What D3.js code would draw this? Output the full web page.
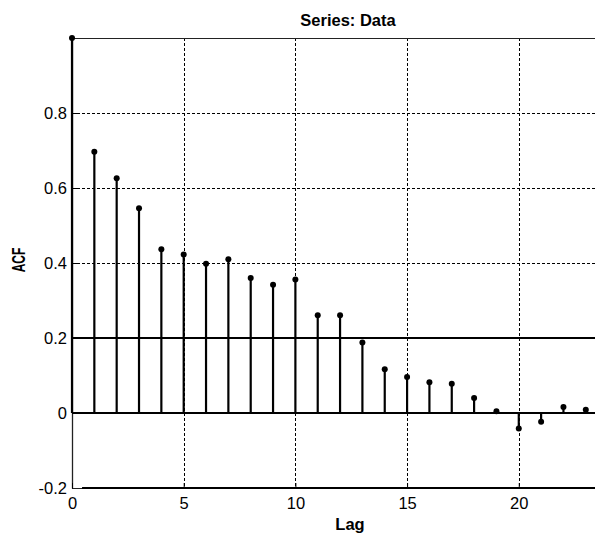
<!DOCTYPE html>
<html>
<head>
<meta charset="utf-8">
<script src="https://cdn.jsdelivr.net/npm/d3@7"></script>
<style>
    body { margin: 0; background: #fff; }
    text { font-family: "Liberation Sans", Arial, sans-serif; fill: #000; }
</style>
</head>
<body>
<script>
//pseudo-global variables
var lags = [0, 1, 2, 3, 4, 5, 6, 7, 8, 9, 10, 11, 12, 13, 14, 15, 16, 17, 18, 19, 20, 21, 22, 23];
var acfValues = [1.0, 0.697, 0.626, 0.546, 0.437, 0.423, 0.398, 0.41, 0.36, 0.342, 0.356, 0.261,
    0.261, 0.188, 0.117, 0.096, 0.082, 0.078, 0.04, 0.005, -0.041, -0.023, 0.016, 0.009];
var xTicks = [0, 5, 10, 15, 20];
var yTicks = [-0.2, 0, 0.2, 0.4, 0.6, 0.8];
var yGrid = [0.4, 0.6, 0.8];
var xGrid = [5, 10, 15, 20];
var refLines = [0, 0.2];
var titleText = "Series: Data";
var xLabel = "Lag";
var yLabel = "ACF";

window.onload = setChart();

function setChart(){

    var width = 595,
        height = 535;

    var svg = d3.select("body")
        .append("svg")
        .attr("width", width)
        .attr("height", height);

    //plot runs off the right edge, like the cropped original
    var x = d3.scaleLinear().domain([0, 24.8]).range([72, 626]);
    var y = d3.scaleLinear().domain([-0.2, 1.0]).range([488, 38]);

    //dashed grid
    svg.selectAll(".hgrid")
        .data(yGrid)
        .enter()
        .append("line")
        .attr("x1", x(0)).attr("x2", width)
        .attr("y1", function(d){ return Math.round(y(d)) + 0.5; })
        .attr("y2", function(d){ return Math.round(y(d)) + 0.5; })
        .attr("stroke", "#000")
        .attr("stroke-width", 1)
        .attr("stroke-dasharray", "3,2");

    svg.selectAll(".vgrid")
        .data(xGrid)
        .enter()
        .append("line")
        .attr("x1", function(d){ return Math.round(x(d)) + 0.5; })
        .attr("x2", function(d){ return Math.round(x(d)) + 0.5; })
        .attr("y1", y(1.0)).attr("y2", y(-0.2))
        .attr("stroke", "#000")
        .attr("stroke-width", 1)
        .attr("stroke-dasharray", "3,2");

    //top border
    svg.append("line")
        .attr("x1", x(0)).attr("x2", width)
        .attr("y1", y(1.0) + 0.5).attr("y2", y(1.0) + 0.5)
        .attr("stroke", "#222")
        .attr("stroke-width", 1);

    //solid lines at 0 and 0.2
    svg.selectAll(".ref")
        .data(refLines)
        .enter()
        .append("line")
        .attr("x1", x(0)).attr("x2", width)
        .attr("y1", function(d){ return y(d); })
        .attr("y2", function(d){ return y(d); })
        .attr("stroke", "#000")
        .attr("stroke-width", 2);

    //axes - plain hyphen for the minus, like the original
    var yAxis = d3.axisLeft(y)
        .tickValues(yTicks)
        .tickFormat(function(d){ return d === 0 ? "0" : d3.format(".1f")(d).replace("\u2212", "-"); })
        .tickSizeInner(-5)
        .tickSizeOuter(0)
        .tickPadding(5);

    var xAxis = d3.axisBottom(x)
        .tickValues(xTicks)
        .tickFormat(d3.format("d"))
        .tickSizeInner(-5)
        .tickSizeOuter(0)
        .tickPadding(9);

    var gy = svg.append("g")
        .attr("transform", "translate(" + x(0) + ",0)")
        .call(yAxis);

    var gx = svg.append("g")
        .attr("transform", "translate(0," + y(-0.2) + ")")
        .call(xAxis);

    [gx, gy].forEach(function(g){
        g.select(".domain").attr("stroke", "#222").attr("stroke-width", 1.3);
        g.selectAll(".tick line").attr("stroke", "#000");
        g.selectAll("text")
            .style("font-family", "'Liberation Sans', Arial, sans-serif")
            .style("font-size", "16.5px")
            .attr("fill", "#222");
    });
    gx.select(".domain").attr("stroke-width", 1);

    //heavy bottom line
    svg.append("line")
        .attr("x1", x(0.45)).attr("x2", width)
        .attr("y1", y(-0.2)).attr("y2", y(-0.2))
        .attr("stroke", "#000")
        .attr("stroke-width", 2);

    //stems
    svg.selectAll(".stem")
        .data(lags)
        .enter()
        .append("line")
        .attr("class", "stem")
        .attr("x1", function(d){ return x(d); })
        .attr("x2", function(d){ return x(d); })
        .attr("y1", y(0))
        .attr("y2", function(d, i){ return y(acfValues[i]); })
        .attr("stroke", "#000")
        .attr("stroke-width", 2.2);

    svg.selectAll(".dot")
        .data(lags)
        .enter()
        .append("circle")
        .attr("class", "dot")
        .attr("cx", function(d){ return x(d); })
        .attr("cy", function(d, i){ return y(acfValues[i]); })
        .attr("r", 3)
        .attr("fill", "#000");

    //labels
    svg.append("text")
        .attr("x", 348)
        .attr("y", 26)
        .attr("text-anchor", "middle")
        .style("font-size", "16.5px")
        .style("font-weight", "bold")
        .text(titleText);

    svg.append("text")
        .attr("x", 350)
        .attr("y", 530)
        .attr("text-anchor", "middle")
        .style("font-size", "16.5px")
        .style("font-weight", "bold")
        .text(xLabel);

    svg.append("text")
        .attr("transform", "translate(25,260) rotate(-90) scale(1,1.5)")
        .attr("text-anchor", "middle")
        .style("font-size", "12px")
        .style("font-weight", "bold")
        .text(yLabel);
};
</script>
</body>
</html>
